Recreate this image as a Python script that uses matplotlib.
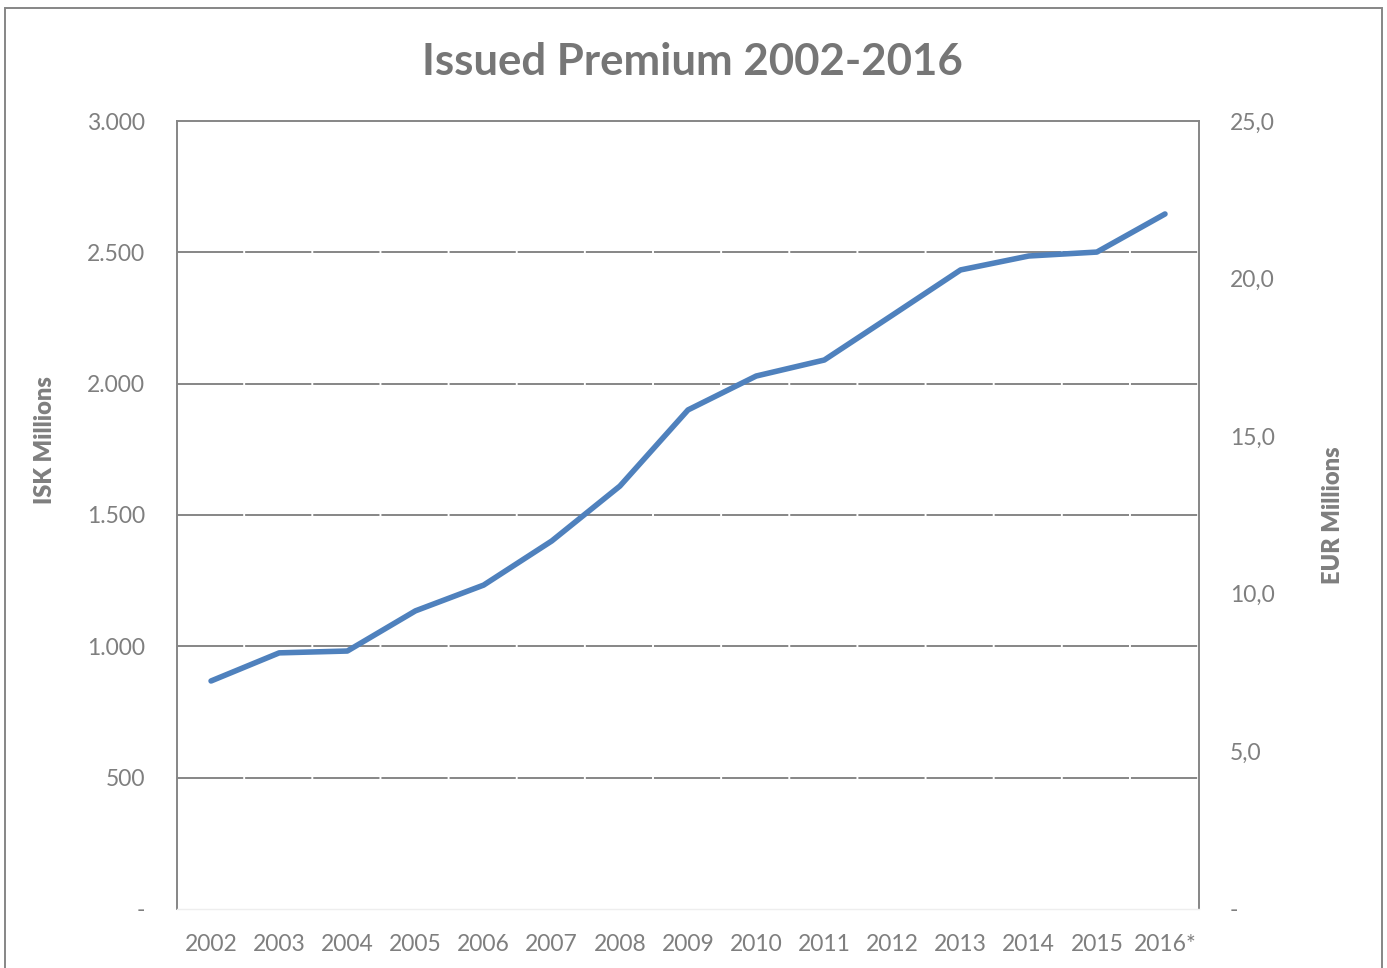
import matplotlib
matplotlib.use("Agg")
import matplotlib.pyplot as plt
from matplotlib.patches import Rectangle
from matplotlib.ticker import FixedLocator, FuncFormatter

# data (ISK millions)
years = ["2002", "2003", "2004", "2005", "2006", "2007", "2008", "2009",
         "2010", "2011", "2012", "2013", "2014", "2015", "2016*"]
premium_isk = [868, 975, 982, 1135, 1233, 1401, 1610, 1900,
               2029, 2090, 2261, 2433, 2486, 2501, 2646]

isk_ticks = [0, 500, 1000, 1500, 2000, 2500, 3000]
eur_ticks = [0, 5, 10, 15, 20, 25]

plt.rcParams["font.family"] = ["Lato", "DejaVu Sans"]
plt.rcParams["lines.scale_dashes"] = False

GREY = "#7f7f7f"
GRID = "#868686"
BLUE = "#4f81bd"

fig = plt.figure(figsize=(13.87, 9.68), dpi=100)
ax = fig.add_axes([0.1276, 0.0610, 0.7369, 0.8140])

x = list(range(len(years)))
ax.plot(x, premium_isk, color=BLUE, lw=4.0, solid_capstyle="round",
        solid_joinstyle="round", zorder=3)

ax.set_xlim(-0.5, len(years) - 0.5)
ax.set_ylim(0, 3000)

# excel-ish gridlines with tiny breaks at category boundaries
cell_pt = 0.7369 * 13.87 * 72 / len(years)
for v in isk_ticks[1:-1]:
    ax.axhline(v, color=GRID, lw=1.4, linestyle=(0, (cell_pt - 1.4, 1.4)), zorder=1)

ax.set_xticks(x)
ax.set_xticklabels(years)
ax.yaxis.set_major_locator(FixedLocator(isk_ticks))
ax.yaxis.set_major_formatter(FuncFormatter(
    lambda v, p: "-" if v == 0 else f"{int(v):,}".replace(",", ".")))
ax.tick_params(axis="both", length=0, labelsize=16.5, labelcolor=GREY)
ax.tick_params(axis="y", pad=23)
ax.tick_params(axis="x", pad=18)

for side in ["left", "right", "top"]:
    ax.spines[side].set_color(GRID)
    ax.spines[side].set_linewidth(1.4)
ax.spines["bottom"].set_color("#eeeeee")
ax.spines["bottom"].set_linewidth(1.0)

ax2 = ax.twinx()
ax2.set_ylim(0, 25)
ax2.yaxis.set_major_locator(FixedLocator(eur_ticks))
ax2.yaxis.set_major_formatter(FuncFormatter(
    lambda v, p: "-" if v == 0 else f"{v:.1f}".replace(".", ",")))
ax2.tick_params(axis="y", length=0, labelsize=16.5, labelcolor=GREY, pad=22)
for side in ax2.spines:
    ax2.spines[side].set_visible(False)

fig.text(0.0325, 0.545, "ISK Millions", rotation=90, ha="center", va="center",
         fontsize=17, fontweight="heavy", color=GREY)
fig.text(0.961, 0.468, "EUR Millions", rotation=90, ha="center", va="center",
         fontsize=17, fontweight="heavy", color=GREY)
fig.text(0.4995, 0.936, "Issued Premium 2002-2016", ha="center", va="center",
         fontsize=31.5, fontweight="bold", color="#767676")

# outer chart border (bottom edge falls outside the image)
fig.patches.append(Rectangle((5 / 1387, -0.05), 1377 / 1387, 0.05 + 960 / 968,
                             transform=fig.transFigure, fill=False,
                             edgecolor=GRID, lw=1.4, clip_on=False))

fig.savefig("out.png", dpi=100, facecolor="white")
